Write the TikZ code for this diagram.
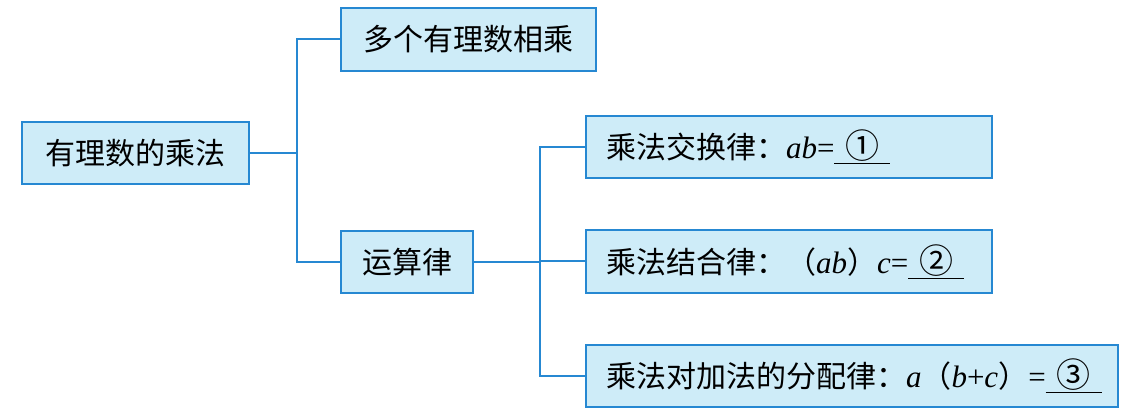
\documentclass[tikz,border=0pt]{standalone}
\usepackage{fontspec}
\setmainfont{Liberation Serif}
\newfontfamily\cjk{Noto Sans CJK SC}
\definecolor{boxline}{RGB}{38,136,210}
\definecolor{boxfill}{RGB}{206,236,248}
\newcommand\ansblank[1]{\underline{\makebox[56pt]{\fontsize{34}{34}\selectfont\cjk #1}}}
\newcommand\lat[1]{{\rmfamily\fontsize{31}{34}\selectfont #1}}
\begin{document}
\begin{tikzpicture}[x=1pt,y=-1pt,
  box/.style={draw=boxline, fill=boxfill, line width=2pt, rectangle, anchor=north west,
    inner ysep=0pt, font=\fontsize{30}{34}\selectfont\cjk},
  lawbox/.style={box, inner xsep=20pt},
  link/.style={draw=boxline, line width=2pt}]
\useasboundingbox (0,0) rectangle (1147,411);
\node[box, minimum width=227pt, minimum height=62pt] (root) at (21,121) {有理数的乘法};
\node[box, minimum width=255pt, minimum height=63pt] (many) at (340,7) {多个有理数相乘};
\node[box, minimum width=132pt, minimum height=62pt] (laws) at (340,230) {运算律};
\node[lawbox, minimum height=62pt] (c1) at (585,115)
  {\makebox[366pt][l]{乘法交换律：\lat{\itshape ab}\lat{=}\ansblank{①}}};
\node[lawbox, minimum height=63pt] (c2) at (585,229)
  {\makebox[366pt][l]{乘法结合律：（\lat{\itshape ab}）\lat{\itshape c}\lat{=}\ansblank{②}}};
\node[lawbox, minimum height=62pt] (c3) at (585,344)
  {\makebox[492pt][l]{乘法对加法的分配律：\lat{\itshape a}（\lat{\itshape b}\lat{+}\lat{\itshape c}）\lat{=}\ansblank{③}}};
\draw[link] (root.east) -- ++(47,0) coordinate (j1);
\draw[link] (j1) |- (many.west);
\draw[link] (j1) |- (laws.west);
\draw[link] (laws.east) -- ++(66,0) coordinate (j2);
\draw[link] (j2) |- (c1.west);
\draw[link] (j2) |- (c2.west);
\draw[link] (j2) |- (c3.west);
\end{tikzpicture}
\end{document}
